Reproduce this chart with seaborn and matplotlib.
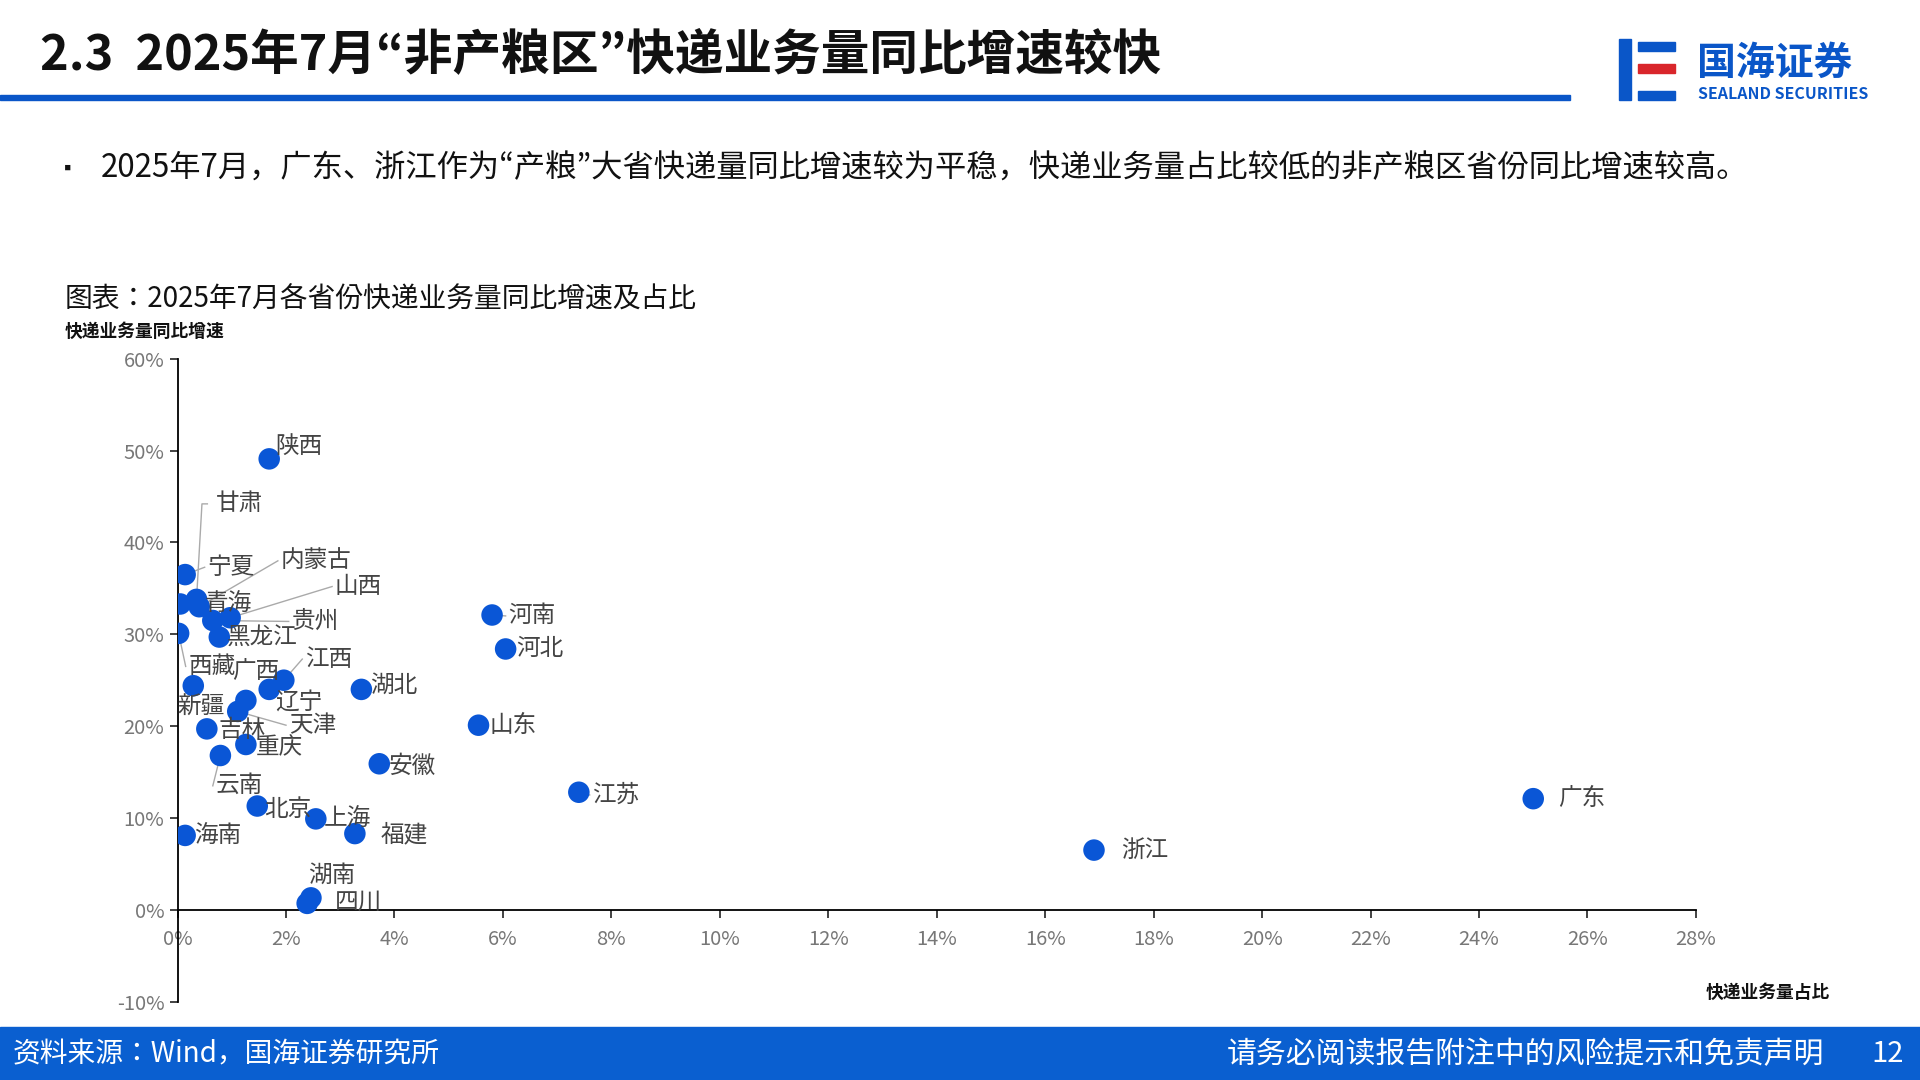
import matplotlib
matplotlib.use("Agg")
import matplotlib.pyplot as plt
from matplotlib import font_manager as fm
import seaborn as sns
import pandas as pd
from matplotlib.patches import Rectangle
from matplotlib.ticker import FuncFormatter, MultipleLocator

cjk = None
for f in fm.findSystemFonts():
    n = f.lower()
    if "cjk" in n and ("sc" in n or ".ttc" in n):
        try:
            fm.fontManager.addfont(f)
            cjk = fm.FontProperties(fname=f).get_name()
            break
        except Exception:
            pass
names = {f.name for f in fm.fontManager.ttflist}
fam = [n for n in ["Noto Sans CJK SC", "Noto Sans CJK JP", cjk] if n and n in names]
plt.rcParams["font.family"] = fam + ["DejaVu Sans"]
plt.rcParams["font.sans-serif"] = fam + ["DejaVu Sans"]

provinces = ["陕西","宁夏","甘肃","内蒙古","青海","山西","贵州","黑龙江","西藏","新疆","广西","天津","辽宁","江西",
             "吉林","重庆","云南","北京","上海","福建","海南","湖南","四川","湖北","安徽","河南","河北","山东","江苏","浙江","广东"]
share = [1.69,0.14,0.35,0.40,0.05,0.97,0.65,0.77,0.02,0.29,1.26,1.11,1.69,1.96,
         0.54,1.26,0.79,1.47,2.55,3.27,0.14,2.46,2.39,3.39,3.72,5.80,6.05,5.55,7.40,16.9,25.0]
growth = [49.1,36.5,33.8,33.0,33.3,31.8,31.5,29.7,30.1,24.4,22.8,21.6,24.0,25.0,
          19.7,18.0,16.8,11.3,9.9,8.3,8.1,1.3,0.7,24.0,15.9,32.1,28.4,20.1,12.8,6.5,12.1]
df = pd.DataFrame({"p": provinces, "x": share, "y": growth})

label_pos = {
    "陕西": (1.80, 50.5, False), "宁夏": (0.55, 37.3, True), "甘肃": (0.70, 44.2, "elbow"),
    "内蒙古": (1.90, 38.0, True), "青海": (0.50, 33.3, False), "山西": (2.90, 35.2, True),
    "贵州": (2.10, 31.4, True), "黑龙江": (0.90, 29.6, False), "西藏": (0.20, 26.5, True),
    "新疆": (0.00, 22.1, False), "广西": (1.00, 25.9, False), "天津": (2.05, 20.1, True),
    "辽宁": (1.80, 22.6, False), "江西": (2.35, 27.3, True), "吉林": (0.75, 19.5, False),
    "重庆": (1.45, 17.6, False), "云南": (0.70, 13.5, True), "北京": (1.60, 10.9, False),
    "上海": (2.70, 9.8, False), "福建": (3.75, 8.2, False), "海南": (0.30, 8.0, False),
    "湖南": (2.40, 3.8, False), "四川": (2.90, 0.8, False), "湖北": (3.55, 24.4, False),
    "安徽": (3.90, 15.6, False), "河南": (6.10, 32.0, True), "河北": (6.25, 28.4, False),
    "山东": (5.75, 20.1, False), "江苏": (7.65, 12.5, True), "浙江": (17.4, 6.5, False),
    "广东": (25.45, 12.1, False),
}

fig = plt.figure(figsize=(19.2, 10.8), dpi=100)
W, H = 1568, 882
def fx(x): return x / W
def fy(y): return 1 - y / H

blue = "#0a56c8"
fig.text(fx(33), fy(45), "2.3  2025年7月“非产粮区”快递业务量同比增速较快", fontsize=35, fontweight="bold",
         color="#111111", va="center")
fig.add_artist(Rectangle((0, fy(82)), fx(1282), 4.5 / H, transform=fig.transFigure, color=blue))
fig.add_artist(Rectangle((fx(1322), fy(82)), fx(10), 50 / H, transform=fig.transFigure, color=blue))
fig.add_artist(Rectangle((fx(1338), fy(60)), fx(30), 8 / H, transform=fig.transFigure, color="#d9262b"))
fig.add_artist(Rectangle((fx(1338), fy(82)), fx(30), 8 / H, transform=fig.transFigure, color=blue))
fig.add_artist(Rectangle((fx(1338), fy(42)), fx(30), 8 / H, transform=fig.transFigure, color=blue))
fig.text(fx(1386), fy(52), "国海证券", fontsize=28, color=blue, fontweight="bold", va="center")
fig.text(fx(1387), fy(77), "SEALAND SECURITIES", fontsize=11.5, color=blue, fontweight="bold", va="center")
fig.text(fx(47), fy(138), "▪", fontsize=14, color="#111111", va="center")
fig.text(fx(82), fy(138), "2025年7月，广东、浙江作为“产粮”大省快递量同比增速较为平稳，快递业务量占比较低的非产粮区省份同比增速较高。",
         fontsize=22.5, color="#111111", va="center")
fig.text(fx(53), fy(245), "图表：2025年7月各省份快递业务量同比增速及占比", fontsize=20, color="#111111", va="center")
fig.text(fx(53), fy(271), "快递业务量同比增速", fontsize=12.8, fontweight="bold", color="#111111", va="center")
fig.text(fx(1393), fy(811), "快递业务量占比", fontsize=12.8, fontweight="bold", color="#111111", va="center")

fig.add_artist(Rectangle((0, 0), 1, 43 / H, transform=fig.transFigure, color="#0a5fd0"))
fig.text(fx(10), fy(861), "资料来源：Wind，国海证券研究所", fontsize=20, color="white", va="center")
fig.text(fx(1490), fy(861), "请务必阅读报告附注中的风险提示和免责声明", fontsize=21.5, color="white", va="center", ha="right")
fig.text(fx(1528), fy(861), "12", fontsize=21, color="white", va="center")

ax = fig.add_axes([fx(145), fy(818), fx(1385) - fx(145), fy(293) - fy(818)])
sns.scatterplot(data=df, x="x", y="y", ax=ax, s=240, color="#0a56d6", edgecolor="none", zorder=3)
ax.set_xlim(0, 28)
ax.set_ylim(-10, 60)
ax.xaxis.set_major_locator(MultipleLocator(2))
ax.yaxis.set_major_locator(MultipleLocator(10))
ax.xaxis.set_major_formatter(FuncFormatter(lambda v, p: f"{v:.0f}%"))
ax.yaxis.set_major_formatter(FuncFormatter(lambda v, p: f"{v:.0f}%"))
ax.set_xlabel("")
ax.set_ylabel("")
for s in ["top", "right"]:
    ax.spines[s].set_visible(False)
ax.spines["bottom"].set_position(("data", 0))
ax.spines["left"].set_linewidth(1.3)
ax.spines["bottom"].set_linewidth(1.3)
ax.tick_params(axis="both", direction="out", length=6, width=1.2, labelsize=14.5, labelcolor="#777777", color="#222222")
ax.tick_params(axis="x", pad=8)
ax.patch.set_alpha(0)

for p, x, y in zip(provinces, share, growth):
    lx, ly, lead = label_pos[p]
    ax.text(lx, ly, p, fontsize=17, color="#444444", va="center", ha="left", zorder=4)
    if lead == "elbow":
        ax.plot([x, x + 0.1, 0.55], [y, ly, ly], color="#aaaaaa", lw=1, zorder=2)
    elif lead:
        ax.plot([x, lx - 0.05], [y, ly], color="#aaaaaa", lw=1, zorder=2)

fig.savefig("out.png", dpi=100)
